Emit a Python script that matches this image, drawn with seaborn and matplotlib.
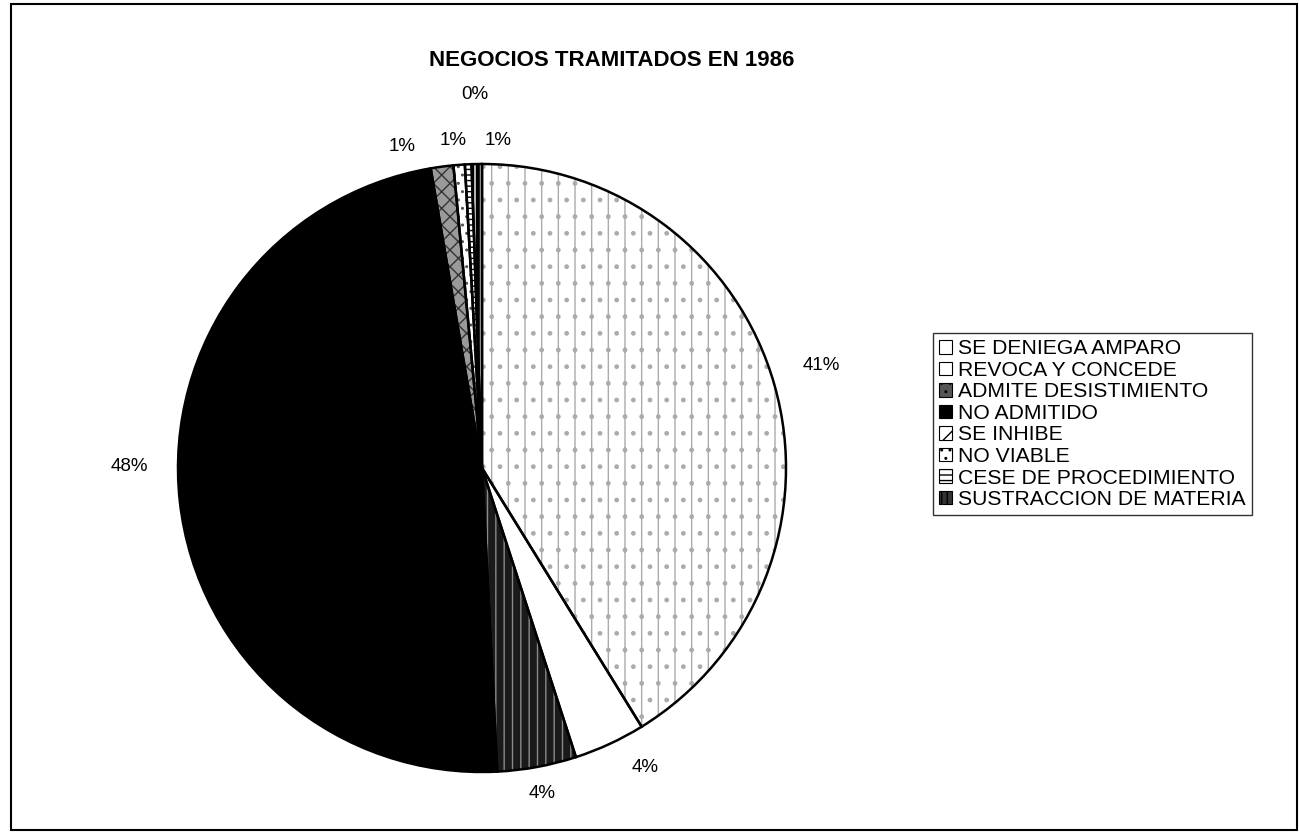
import numpy as np
import matplotlib
matplotlib.use("Agg")
import matplotlib.pyplot as plt
import seaborn as sns
from matplotlib.patches import Rectangle, Patch

categorias = ["SE DENIEGA AMPARO", "REVOCA Y CONCEDE", "ADMITE DESISTIMIENTO",
              "NO ADMITIDO", "SE INHIBE", "NO VIABLE",
              "CESE DE PROCEDIMIENTO", "SUSTRACCION DE MATERIA"]
porcentajes = [41.2, 3.8, 4.2, 48.1, 1.2, 0.6, 0.35, 0.55]

sns.set_theme(style="white")
plt.rcParams['font.family'] = ['Liberation Sans', 'DejaVu Sans']
plt.rcParams['text.color'] = 'black'

# fill, hatch colour, hatch pattern per slice
fills = ["white", "white", "#1a1a1a", "black", "#9a9a9a", "white", "white", "black"]
hatch_cols = ["#ababab", "white", "#8a8a8a", "black", "#333333", "#555555", "black", "white"]
hatches = ["|.", None, "||", None, "xx", "..", "---", "|||"]
# label placement: radial distance and angular nudge (deg)
label_dist = [1.165, 1.12, 1.09, 1.16, 1.09, 1.08, 1.23, 1.08]
label_nudge = [-1.0, -3.7, 0.0, 6.5, -6.4, -0.7, 1.5, 3.8]

# legend swatches (face, pattern)
leg_fills = ["white", "white", "#555555", "black", "white", "white", "white", "#333333"]
leg_hatch = [None, None, "..", None, "//", "..", "---", "|||"]

fig = plt.figure(figsize=(12.99, 8.32), dpi=100)
fig.patches.append(Rectangle((11 / 1299, 2 / 832), 1286 / 1299, 826 / 832,
                             transform=fig.transFigure, fill=False,
                             edgecolor="black", linewidth=1.5))

ax = fig.add_axes([178 / 1299, 60 / 832, 608 / 1299, 608 / 832])

wedges, _ = ax.pie(porcentajes, startangle=90, counterclock=False, radius=1,
                   colors=fills, wedgeprops=dict(linewidth=0))
for w, hc, h in zip(wedges, hatch_cols, hatches):
    if h:
        w.set_hatch(h)
        w.set_edgecolor(hc)
# outlines on top
outl, _ = ax.pie(porcentajes, startangle=90, counterclock=False, radius=1,
                 wedgeprops=dict(fill=False, edgecolor="black", linewidth=1.8))
ax.set_xlim(-1, 1)
ax.set_ylim(-1, 1)
ax.set_aspect("equal")
ax.axis("off")

for w, pct, d, nd in zip(outl, porcentajes, label_dist, label_nudge):
    ang = np.deg2rad((w.theta1 + w.theta2) / 2 - nd)
    ax.text(d * np.cos(ang), d * np.sin(ang), f"{pct:.0f}%",
            ha="center", va="center", fontsize=13.5, color="black", clip_on=False)

fig.text(612 / 1299, 772 / 832, "NEGOCIOS TRAMITADOS EN 1986", ha="center",
         va="center", fontsize=16, fontweight="bold")

handles = [Patch(facecolor=f, edgecolor="black", hatch=h, linewidth=0.8)
           for f, h in zip(leg_fills, leg_hatch)]
leg = fig.legend(handles, categorias, loc="upper left",
                 bbox_to_anchor=(933 / 1299, 499 / 832), fontsize=15.2,
                 frameon=True, fancybox=False, edgecolor="black",
                 handlelength=0.6, handleheight=0.6, handletextpad=0.3,
                 labelspacing=0.12, borderpad=0.3, borderaxespad=0)
leg.get_frame().set_linewidth(1.0)

fig.savefig("out.png", dpi=100, facecolor="white")
